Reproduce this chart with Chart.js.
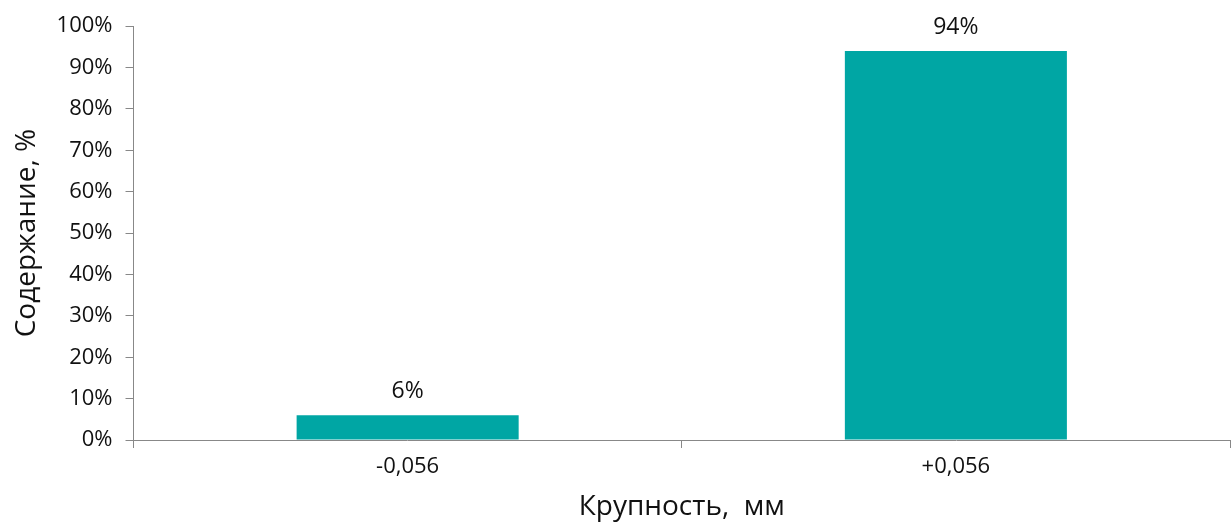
<!DOCTYPE html>
<html>
  <head>
    <title>Крупность</title>
    <script src="https://cdn.jsdelivr.net/npm/chart.js"></script>
    <style>
      body {
        margin: 0;
        background: #fff;
      }
      .chart-container {
        width: 1232px;
        height: 524px;
      }
    </style>
  </head>
  <body>
    <div class="chart-container">
      <canvas id="myChart"></canvas>
    </div>

    <script>
      const categories = ["-0,056", "+0,056"];
      const values = [6, 94];
      const yTitle = "Содержание, %";
      const xTitle = "Крупность,  мм";

      const barLabels = {
        id: "barLabels",
        afterDatasetsDraw(chart) {
          const ctx = chart.ctx;
          ctx.save();
          ctx.font = "23px 'Open Sans'";
          ctx.fillStyle = "#111";
          ctx.textAlign = "center";
          ctx.textBaseline = "middle";
          chart.getDatasetMeta(0).data.forEach((bar, i) => {
            ctx.fillText(values[i] + "%", bar.x, bar.y - 24);
          });
          ctx.restore();
        },
      };

      const ctx = document.getElementById("myChart").getContext("2d");
      new Chart(ctx, {
        type: "bar",
        data: {
          labels: categories,
          datasets: [
            {
              data: values,
              backgroundColor: "#00A6A4",
              categoryPercentage: 1,
              barPercentage: 0.405,
            },
          ],
        },
        options: {
          responsive: true,
          maintainAspectRatio: false,
          animation: false,
          layout: { padding: { top: 7, right: 2, left: 10, bottom: 0 } },
          plugins: {
            legend: { display: false },
            tooltip: { enabled: false },
          },
          scales: {
            x: {
              grid: {
                offset: true,
                drawOnChartArea: false,
                tickLength: 8,
                color: "#888",
              },
              border: { color: "#888" },
              ticks: {
                color: "#111",
                font: { family: "Open Sans", size: 22 },
                padding: 6,
              },
              title: {
                display: true,
                text: xTitle,
                color: "#111",
                font: { family: "Open Sans", size: 28 },
                padding: { top: 4, bottom: 0 },
              },
            },
            y: {
              min: 0,
              max: 100,
              grid: {
                drawOnChartArea: false,
                tickLength: 8,
                color: "#888",
              },
              border: { color: "#888" },
              ticks: {
                stepSize: 10,
                color: "#111",
                font: { family: "Open Sans", size: 22 },
                padding: 13,
                callback: (v) => v + "%",
              },
              title: {
                display: true,
                text: yTitle,
                color: "#111",
                font: { family: "Open Sans", size: 28 },
                padding: { top: 0, bottom: 0 },
              },
            },
          },
        },
        plugins: [barLabels],
      });
    </script>
  </body>
</html>
